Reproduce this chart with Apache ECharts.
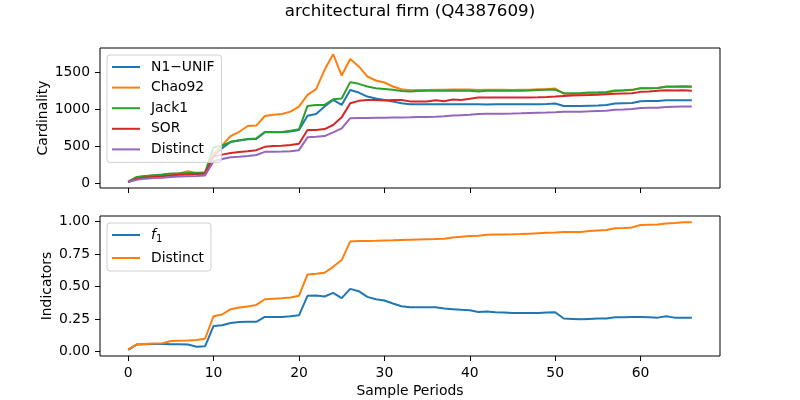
<!DOCTYPE html>
<html>
<head>
<meta charset="utf-8">
<script src="https://cdn.jsdelivr.net/npm/echarts@6/dist/echarts.min.js"></script>
<style>
  html, body { margin: 0; padding: 0; background: #fff; }
  #chart { width: 800px; height: 400px; }
</style>
</head>
<body>
<div id="chart"></div>
<script>
// values, one per sample period (0..66)
const n1Unif = [22, 80, 95, 105, 112, 120, 125, 130, 130, 135,
  380, 475, 560, 580, 595, 600, 690, 690, 690, 700,
  720, 914, 937, 1036, 1126, 1058, 1260, 1225, 1171, 1144,
  1126, 1104, 1081, 1068, 1068, 1068, 1066, 1066, 1066, 1066,
  1067, 1066, 1065, 1066, 1066, 1066, 1066, 1067, 1067, 1070,
  1078, 1045, 1045, 1045, 1048, 1050, 1056, 1078, 1082, 1085,
  1108, 1110, 1110, 1120, 1122, 1122, 1120];
const chao92 = [22, 85, 100, 110, 118, 128, 135, 168, 140, 148,
  395, 515, 640, 697, 775, 780, 909, 927, 936, 968,
  1035, 1193, 1270, 1531, 1740, 1454, 1675, 1576, 1441, 1387,
  1360, 1306, 1270, 1255, 1258, 1260, 1262, 1262, 1266, 1265,
  1265, 1258, 1262, 1262, 1262, 1260, 1262, 1264, 1268, 1272,
  1278, 1210, 1205, 1207, 1212, 1218, 1222, 1245, 1252, 1258,
  1284, 1284, 1286, 1306, 1306, 1308, 1306];
const jack1 = [22, 90, 103, 113, 121, 135, 138, 144, 147, 149,
  490, 510, 562, 585, 599, 608, 695, 695, 695, 711,
  730, 1045, 1058, 1058, 1135, 1144, 1365, 1342, 1306, 1284,
  1274, 1261, 1247, 1240, 1245, 1248, 1250, 1250, 1252, 1250,
  1250, 1240, 1250, 1250, 1248, 1250, 1250, 1252, 1258, 1262,
  1265, 1216, 1216, 1218, 1225, 1228, 1232, 1252, 1256, 1261,
  1284, 1284, 1286, 1302, 1304, 1306, 1304];
const sor = [22, 67, 81, 90, 98, 108, 118, 121, 128, 135,
  365, 390, 412, 425, 435, 450, 495, 505, 508, 520,
  535, 720, 722, 734, 788, 891, 1081, 1113, 1126, 1126,
  1117, 1126, 1126, 1106, 1104, 1104, 1120, 1108, 1130, 1124,
  1140, 1157, 1157, 1157, 1157, 1157, 1157, 1158, 1160, 1165,
  1171, 1180, 1185, 1189, 1192, 1196, 1203, 1210, 1212, 1214,
  1234, 1238, 1248, 1257, 1252, 1257, 1250];
const distinct = [22, 53, 67, 74, 80, 90, 95, 99, 103, 108,
  300, 330, 355, 362, 372, 385, 427, 430, 432, 436,
  450, 622, 630, 639, 689, 743, 880, 882, 884, 885,
  886, 888, 890, 892, 895, 897, 900, 905, 915, 920,
  925, 935, 938, 940, 941, 942, 945, 950, 953, 956,
  960, 965, 966, 968, 972, 978, 980, 995, 998, 1002,
  1018, 1020, 1022, 1030, 1033, 1036, 1038];

const f1 = [0.012, 0.052, 0.054, 0.056, 0.057, 0.055, 0.055, 0.052, 0.036, 0.039,
  0.196, 0.201, 0.219, 0.227, 0.228, 0.228, 0.265, 0.265, 0.265, 0.270,
  0.278, 0.428, 0.430, 0.423, 0.451, 0.410, 0.482, 0.464, 0.420, 0.402,
  0.392, 0.369, 0.348, 0.340, 0.340, 0.340, 0.340, 0.330, 0.325, 0.320,
  0.317, 0.304, 0.307, 0.302, 0.299, 0.296, 0.296, 0.296, 0.296, 0.299,
  0.302, 0.253, 0.250, 0.247, 0.250, 0.253, 0.253, 0.263, 0.263, 0.265,
  0.265, 0.263, 0.260, 0.271, 0.260, 0.260, 0.260];
const distinctShare = [0.015, 0.054, 0.057, 0.060, 0.063, 0.080, 0.082, 0.084, 0.088, 0.097,
  0.271, 0.284, 0.325, 0.338, 0.346, 0.358, 0.402, 0.406, 0.409, 0.415,
  0.428, 0.593, 0.598, 0.606, 0.652, 0.704, 0.848, 0.851, 0.852, 0.853,
  0.855, 0.856, 0.858, 0.860, 0.862, 0.864, 0.866, 0.869, 0.879, 0.884,
  0.889, 0.892, 0.900, 0.902, 0.902, 0.903, 0.905, 0.908, 0.911, 0.914,
  0.916, 0.920, 0.920, 0.921, 0.928, 0.933, 0.936, 0.949, 0.951, 0.956,
  0.974, 0.977, 0.978, 0.987, 0.990, 0.995, 0.995];

const xTicks = [0, 10, 20, 30, 40, 50, 60];
const cardTicks = [0, 500, 1000, 1500];
const indTicks = [0, 0.25, 0.5, 0.75, 1];

const FONT = 'DejaVu Sans';
const colors = ['#1f77b4', '#ff7f0e', '#2ca02c', '#d62728', '#9467bd'];

// sample period is just the position in the list
const pairs = vals => vals.map((v, i) => [i, v]);

function line(name, vals, color, axis) {
  return {
    name: name,
    type: 'line',
    xAxisIndex: axis,
    yAxisIndex: axis,
    data: pairs(vals),
    symbol: 'none',
    lineStyle: { width: 2, color: color },
    itemStyle: { color: color }
  };
}

const tickLabel = { fontFamily: FONT, fontSize: 13.9, color: '#000' };

function xAxis(gridIndex, showLabels) {
  return {
    type: 'value',
    gridIndex: gridIndex,
    min: -3.3,
    max: 69.3,
    splitLine: { show: false },
    axisLine: { show: false, onZero: false },
    axisTick: { show: true, inside: false, length: 5, customValues: xTicks,
      lineStyle: { color: '#000' } },
    axisLabel: Object.assign({ show: showLabels, margin: 10, customValues: xTicks }, tickLabel),
    name: showLabels ? 'Sample Periods' : '',
    nameLocation: 'middle',
    nameGap: 28,
    nameMoveOverlap: false,
    nameTextStyle: { fontFamily: FONT, fontSize: 13.9, color: '#000' }
  };
}

function yAxis(gridIndex, min, max, ticks, name, gap, fmt) {
  return {
    type: 'value',
    gridIndex: gridIndex,
    min: min,
    max: max,
    splitLine: { show: false },
    axisLine: { show: false, onZero: false },
    axisTick: { show: true, inside: false, length: 5, customValues: ticks,
      lineStyle: { color: '#000' } },
    axisLabel: Object.assign({ margin: 10, customValues: ticks, formatter: fmt }, tickLabel),
    name: name,
    nameLocation: 'middle',
    nameGap: gap,
    nameMoveOverlap: false,
    nameTextStyle: { fontFamily: FONT, fontSize: 13.9, color: '#000' }
  };
}

const legendBox = {
  orient: 'vertical',
  left: 107,
  icon: 'rect',
  itemWidth: 28,
  itemHeight: 2,
  padding: [5, 7, 6, 5],
  backgroundColor: 'rgba(255,255,255,0.8)',
  borderColor: '#d0d0d0',
  borderWidth: 1,
  borderRadius: 3
};

const chart = echarts.init(document.getElementById('chart'));
chart.setOption({
  animation: false,
  backgroundColor: '#fff',
  title: {
    text: 'architectural firm (Q4387609)',
    left: 410,
    top: 3,
    padding: 0,
    textAlign: 'center',
    textStyle: { fontFamily: FONT, fontSize: 16.7, fontWeight: 'normal', color: '#000' }
  },
  grid: [
    { left: 100, width: 620, top: 48, height: 140, show: true,
      borderColor: '#000', borderWidth: 1, backgroundColor: 'transparent' },
    { left: 100, width: 620, top: 216, height: 140, show: true,
      borderColor: '#000', borderWidth: 1, backgroundColor: 'transparent' }
  ],
  legend: [
    Object.assign({}, legendBox, {
      top: 55,
      itemGap: 6.6,
      data: ['N1−UNIF', 'Chao92', 'Jack1', 'SOR', 'Distinct'],
      textStyle: { fontFamily: FONT, fontSize: 13.9, color: '#000', padding: [0, 0, 0, 6] }
    }),
    Object.assign({}, legendBox, {
      top: 223,
      itemGap: 7,
      data: ['f1', 'Distinct share'],
      formatter: name => name === 'f1' ? '{i|f}{s|1}' : 'Distinct',
      textStyle: {
        fontFamily: FONT, fontSize: 13.9, color: '#000', padding: [0, 0, 0, 6],
        rich: {
          i: { fontFamily: FONT, fontSize: 13.9, fontStyle: 'italic', color: '#000' },
          s: { fontFamily: FONT, fontSize: 10, color: '#000', padding: [8, 0, 0, 0] }
        }
      }
    })
  ],
  xAxis: [xAxis(0, false), xAxis(1, true)],
  yAxis: [
    yAxis(0, -59, 1824, cardTicks, 'Cardinality', 50, v => String(v)),
    yAxis(1, -0.036, 1.044, indTicks, 'Indicators', 46, v => v.toFixed(2))
  ],
  series: [
    line('N1−UNIF', n1Unif, colors[0], 0),
    line('Chao92', chao92, colors[1], 0),
    line('Jack1', jack1, colors[2], 0),
    line('SOR', sor, colors[3], 0),
    line('Distinct', distinct, colors[4], 0),
    line('f1', f1, colors[0], 1),
    line('Distinct share', distinctShare, colors[1], 1)
  ]
});
</script>
</body>
</html>
